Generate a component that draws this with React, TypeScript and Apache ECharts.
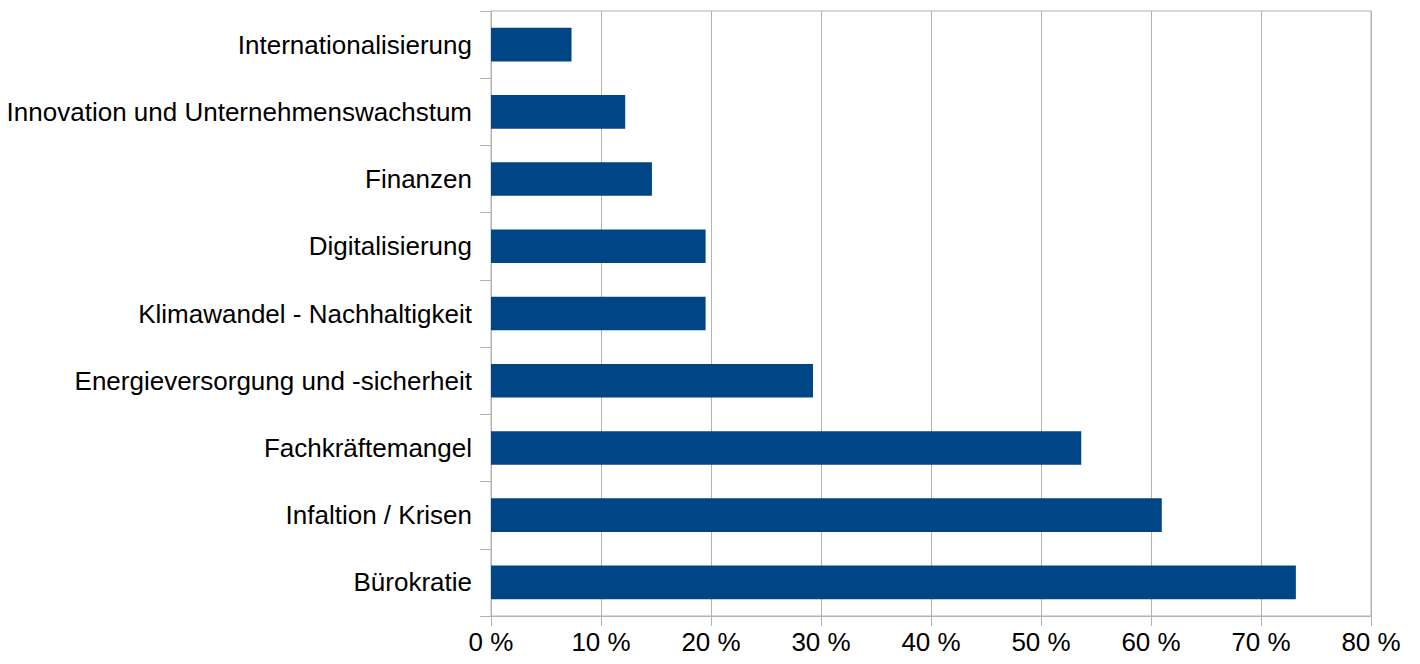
import React, { useEffect, useRef } from "react";
import * as echarts from "echarts";

const categories = [
  "Bürokratie",
  "Infaltion / Krisen",
  "Fachkräftemangel",
  "Energieversorgung und -sicherheit",
  "Klimawandel - Nachhaltigkeit",
  "Digitalisierung",
  "Finanzen",
  "Innovation und Unternehmenswachstum",
  "Internationalisierung",
];
const values = [73.17, 60.98, 53.66, 29.27, 19.51, 19.51, 14.63, 12.2, 7.32];
const xTicks = [0, 10, 20, 30, 40, 50, 60, 70, 80];

export default function App() {
  const ref = useRef<HTMLDivElement>(null);
  useEffect(() => {
    if (!ref.current) return;
    const chart = echarts.init(ref.current, undefined, { renderer: "svg" });
    const font = "'Liberation Sans', Arial, sans-serif";
    chart.setOption({
      animation: false,
      grid: {
        left: 491,
        right: 49,
        top: 11,
        bottom: 48,
        show: true,
        borderColor: "#b3b3b3",
        borderWidth: 1,
      },
      xAxis: {
        type: "value",
        min: xTicks[0],
        max: xTicks[xTicks.length - 1],
        interval: 10,
        axisLine: { show: true, lineStyle: { color: "#b3b3b3" } },
        axisTick: { show: true, length: 10, lineStyle: { color: "#b3b3b3" } },
        splitLine: { show: true, lineStyle: { color: "#b3b3b3" } },
        axisLabel: {
          formatter: (v: number) => `${v} %`,
          color: "#000",
          fontFamily: font,
          fontSize: 26,
          margin: 13,
        },
      },
      yAxis: {
        type: "category",
        data: categories,
        axisLine: { show: true, lineStyle: { color: "#b3b3b3" } },
        axisTick: { show: true, length: 11, lineStyle: { color: "#b3b3b3" } },
        axisLabel: {
          color: "#000",
          fontFamily: font,
          fontSize: 26,
          margin: 19,
        },
      },
      series: [
        {
          type: "bar",
          data: values,
          barWidth: "50%",
          itemStyle: { color: "#004586" },
        },
      ],
    });
    return () => chart.dispose();
  }, []);
  return <div ref={ref} style={{ width: 1420, height: 664, position: "absolute", left: 0, top: 0 }} />;
}
